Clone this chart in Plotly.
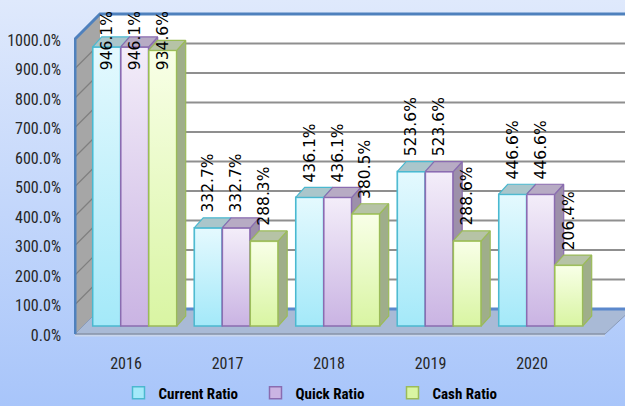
import base64
import plotly.graph_objects as go

# ---------------- data ----------------
years = ["2016", "2017", "2018", "2019", "2020"]
current_ratio = [946.1, 332.7, 436.1, 523.6, 446.6]
quick_ratio = [946.1, 332.7, 436.1, 523.6, 446.6]
cash_ratio = [934.6, 288.3, 380.5, 288.6, 206.4]
series_names = ["Current Ratio", "Quick Ratio", "Cash Ratio"]
y_ticks = [0, 100, 200, 300, 400, 500, 600, 700, 800, 900, 1000]

# ---------------- styles / geometry ----------------
W, H = 625, 406
ML, MR, MT, MB = 74, 0, 2, 66
PW, PH = W - ML - MR, H - MT - MB
CAT_PX = 101.5          # pixels per category
CAT0_PX = 126           # pixel x of first category label
UNIT_PX = 0.295         # pixels per percent unit
BASE_PX = 326           # pixel y of bar base


def xd(px):
    return (px - CAT0_PX) / CAT_PX


def yd(py):
    return (BASE_PX - py) / UNIT_PX


XR = [xd(ML), xd(ML + PW)]
YR = [yd(MT + PH), yd(MT)]

BAR_W = 28 / CAT_PX
GROUP_LEFT = xd(92.7)   # left of first bar relative to category
DX = 9 / CAT_PX         # bar depth (x)
DY = 10 / UNIT_PX       # bar depth (y)

front_col = ["#a4e9f9", "#cab4e3", "#d9f5a3"]
top_grad = ["#e4f9fe", "#f3edf9", "#f8ffe7"]
edge_col = ["#4bb8cf", "#8a6cb0", "#9bbb59"]
top_col = ["#aac6cb", "#b7abc4", "#b6c3a6"]
side_col = ["#8fb0b5", "#9d90aa", "#9fae8a"]

FONT_NARROW = "Liberation Sans Narrow, Roboto Condensed, Arial Narrow, Lato, sans-serif"

values = [current_ratio, quick_ratio, cash_ratio]

fig = go.Figure()

# front faces (bars)
for s, name in enumerate(series_names):
    fig.add_trace(go.Bar(
        x=list(range(len(years))), y=values[s], name=name,
        width=BAR_W, offset=GROUP_LEFT + s * BAR_W,
        marker=dict(color=front_col[s], line=dict(color=edge_col[s], width=1.5)),
        hoverinfo="skip",
    ))


def hex_rgba(h, a):
    h = h.lstrip("#")
    return f"rgba({int(h[0:2],16)},{int(h[2:4],16)},{int(h[4:6],16)},{a})"


inset_x = 1.2 / CAT_PX
inset_y = 1.2 / UNIT_PX
# gradient highlight on each front face
for s in range(3):
    for i, v in enumerate(values[s]):
        x0 = i + GROUP_LEFT + s * BAR_W + inset_x
        x1 = i + GROUP_LEFT + (s + 1) * BAR_W - inset_x
        y0, y1 = inset_y, v - inset_y
        fig.add_trace(go.Scatter(
            x=[x0, x1, x1, x0, x0], y=[y0, y0, y1, y1, y0],
            mode="lines", line=dict(width=0), fill="toself",
            fillgradient=dict(type="vertical", start=y0, stop=y1,
                              colorscale=[[0, hex_rgba(top_grad[s], 0)], [1, hex_rgba(top_grad[s], 1)]]),
            showlegend=False, hoverinfo="skip",
        ))

# top and side faces
for s in range(3):
    tx, ty, sx, sy = [], [], [], []
    for i, v in enumerate(values[s]):
        x0 = i + GROUP_LEFT + s * BAR_W
        x1 = x0 + BAR_W
        nxt = values[s + 1][i] if s < 2 else 0
        if nxt > v:
            tx += [x0, x1, x1, x0 + DX, x0, None]
            ty += [v, v, v + DY, v + DY, v, None]
        else:
            tx += [x0, x1, x1 + DX, x0 + DX, x0, None]
            ty += [v, v, v + DY, v + DY, v, None]
            if v > nxt:
                sx += [x1, x1, x1 + DX, x1 + DX, x1, None]
                sy += [nxt, v, v + DY, nxt + DY, nxt, None]
    fig.add_trace(go.Scatter(x=sx, y=sy, mode="lines", fill="toself",
                             fillcolor=side_col[s], line=dict(color=edge_col[s], width=1.2),
                             showlegend=False, hoverinfo="skip"))
    fig.add_trace(go.Scatter(x=tx, y=ty, mode="lines", fill="toself",
                             fillcolor=top_col[s], line=dict(color=edge_col[s], width=1.2),
                             showlegend=False, hoverinfo="skip"))

# data labels
LABEL_CAP = yd(72)
for s in range(3):
    for i, v in enumerate(values[s]):
        xc = i + GROUP_LEFT + (s + 0.5) * BAR_W
        fig.add_annotation(
            x=xc, y=min(v + DY + 3 / UNIT_PX, LABEL_CAP), xref="x", yref="y",
            text=f"{v:.1f}%", textangle=-90, showarrow=False,
            xanchor="center", yanchor="bottom",
            font=dict(family="DejaVu Sans", size=15.5, color="#000000"),
        )

# ---------------- walls, floor, grid ----------------
FRONT_Z = yd(334)
BACK_Z = yd(309)
L_FRONT, L_BACK = xd(75), xd(100)
R_BACK, R_FRONT = xd(632), xd(605)
shapes = []


def path(pts):
    return "M " + " L ".join(f"{x},{y}" for x, y in pts) + " Z"


# back wall
shapes.append(dict(type="path", xref="x", yref="y", layer="below",
                   path=path([(L_BACK, BACK_Z), (R_BACK, BACK_Z), (R_BACK, BACK_Z + 1000), (L_BACK, BACK_Z + 1000)]),
                   fillcolor="#ffffff", line=dict(width=0)))
# back wall grid
for v in y_ticks[1:-1]:
    shapes.append(dict(type="line", xref="x", yref="y", layer="below",
                       x0=L_BACK, x1=R_BACK, y0=BACK_Z + v, y1=BACK_Z + v,
                       line=dict(color="#8f8f8f", width=2)))
# left wall
shapes.append(dict(type="path", xref="x", yref="y", layer="below",
                   path=path([(L_FRONT, FRONT_Z), (L_BACK, BACK_Z), (L_BACK, BACK_Z + 1000), (L_FRONT, FRONT_Z + 1000)]),
                   fillcolor="#a6a6a6", line=dict(width=0)))
for v in y_ticks[1:-1]:
    shapes.append(dict(type="line", xref="x", yref="y", layer="below",
                       x0=L_FRONT, x1=L_BACK, y0=FRONT_Z + v, y1=BACK_Z + v,
                       line=dict(color="#7f7f7f", width=1.2)))
# floor
shapes.append(dict(type="path", xref="x", yref="y", layer="below",
                   path=path([(L_FRONT, FRONT_Z), (L_BACK, BACK_Z), (R_BACK, BACK_Z), (R_FRONT, FRONT_Z)]),
                   fillcolor="#a9bad6", line=dict(color="#8a9bb8", width=1)))
shapes.append(dict(type="line", xref="x", yref="y", layer="below",
                   x0=L_BACK, x1=R_BACK, y0=BACK_Z, y1=BACK_Z,
                   line=dict(color="#5b88cc", width=3)))
shapes.append(dict(type="line", xref="x", yref="y", layer="below",
                   x0=L_FRONT, x1=R_FRONT, y0=FRONT_Z - 1.5 / UNIT_PX, y1=FRONT_Z - 1.5 / UNIT_PX,
                   line=dict(color="#c9d6ec", width=2)))
shapes.append(dict(type="line", xref="x", yref="y", layer="below",
                   x0=L_FRONT, x1=R_FRONT, y0=FRONT_Z, y1=FRONT_Z,
                   line=dict(color="#8d99ad", width=1.5)))
# frame edges (blue)
shapes.append(dict(type="path", xref="x", yref="y", layer="below",
                   path="M {},{} L {},{} L {},{} L {},{}".format(
                       L_FRONT, FRONT_Z, L_FRONT, FRONT_Z + 1000, L_BACK, BACK_Z + 1000, R_BACK, BACK_Z + 1000),
                   line=dict(color="#4f81bd", width=3)))

# background gradient
svg = ('<svg xmlns="http://www.w3.org/2000/svg" width="625" height="406" preserveAspectRatio="none">'
       '<defs><linearGradient id="g" x1="0" y1="0" x2="0" y2="1">'
       '<stop offset="0" stop-color="#dfe9fc"/><stop offset="1" stop-color="#a8c5fa"/>'
       '</linearGradient></defs><rect width="625" height="406" fill="url(#g)"/></svg>')
bg_src = "data:image/svg+xml;base64," + base64.b64encode(svg.encode()).decode()

fig.update_layout(
    width=W, height=H,
    margin=dict(l=ML, r=MR, t=MT, b=MB, pad=0, autoexpand=False),
    paper_bgcolor="#c4d7fb", plot_bgcolor="rgba(0,0,0,0)",
    barmode="overlay",
    showlegend=True,
    hovermode=False,
    shapes=shapes,
    images=[dict(source=bg_src, xref="paper", yref="paper",
                 x=-ML / PW, y=1 + MT / PH, sizex=W / PW, sizey=H / PH,
                 xanchor="left", yanchor="top", sizing="stretch", layer="below")],
    xaxis=dict(range=XR, tickvals=list(range(len(years))), ticktext=years,
               showgrid=False, zeroline=False, showline=False, ticks="",
               ticklabelstandoff=12, automargin=False, fixedrange=True,
               tickfont=dict(family=FONT_NARROW, size=16, color="#262626")),
    yaxis=dict(range=YR, tickvals=y_ticks, ticktext=[f"{v:.1f}%" for v in y_ticks],
               showgrid=False, zeroline=False, showline=False, ticks="",
               ticklabelshift=9, ticklabelstandoff=12, automargin=False, fixedrange=True,
               tickfont=dict(family=FONT_NARROW, size=16, color="#262626")),
    legend=dict(orientation="h", x=(324 - ML) / PW, xanchor="center",
                y=(MT + PH - 393) / PH, yanchor="middle",
                bgcolor="rgba(0,0,0,0)", itemwidth=30,
                entrywidth=92, entrywidthmode="pixels",
                font=dict(family=FONT_NARROW, size=15, color="#000000", weight="bold")),
)

fig.write_html(
    "out.html",
    config={"displayModeBar": False, "staticPlot": False},
    post_script="document.body.style.margin='0px';document.body.style.overflow='hidden';",
)
